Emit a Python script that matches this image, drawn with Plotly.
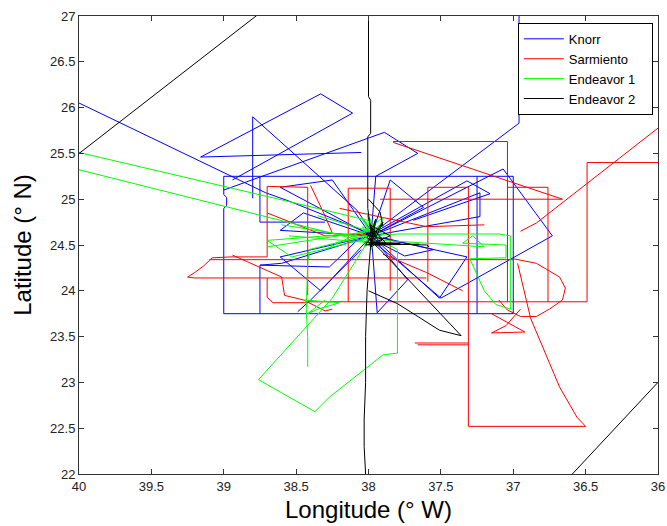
import plotly.graph_objects as go

# Ship tracks, one list of legs per ship; each leg is a run of (lon °W, lat °N) fixes.
knorr_legs = [
    [(40.3, 26.28), (40.0, 26.05), (38.71, 25.07), (38.55, 24.98), (37.98, 24.62)],
    [(39.0, 25.25), (38.0, 25.25), (37.25, 25.25), (37.0, 25.25), (37.0, 23.75),
     (39.0, 23.75), (39.0, 24.9), (38.98, 24.93), (38.98, 25.02), (39.0, 25.05), (39.0, 25.25)],
    [(37.25, 25.25), (37.25, 23.75)],
    [(38.75, 25.25), (38.75, 24.75), (38.3, 24.75)],
    [(38.75, 23.75), (38.75, 24.28), (38.6, 24.3), (37.98, 24.6)],
    [(38.05, 25.51), (39.16, 25.46), (38.33, 26.15), (38.11, 25.94), (38.94, 25.21)],
    [(38.8, 25.01), (38.8, 25.9), (38.08, 24.88), (37.98, 24.65)],
    [(39.0, 25.1), (37.89, 25.73), (37.66, 25.5), (37.95, 25.25), (37.98, 24.65)],
    [(36.96, 27.3), (36.96, 25.83), (37.98, 24.62)],
    [(37.98, 24.6), (37.07, 25.33), (36.73, 24.6), (37.5, 23.92), (37.78, 24.3), (37.98, 24.55)],
    [(37.98, 24.62), (37.32, 25.2), (37.16, 25.06), (37.69, 24.77)],
    [(37.98, 24.6), (38.61, 25.13), (38.25, 25.21), (37.98, 24.6), (37.85, 25.21), (37.62, 24.91),
     (37.98, 24.6), (37.23, 25.07), (37.23, 24.81), (37.98, 24.6), (37.32, 24.37), (37.51, 23.92),
     (37.98, 24.6), (37.73, 24.12), (37.94, 23.76), (37.98, 24.6), (38.33, 24.0), (38.61, 24.37),
     (37.98, 24.6), (38.61, 24.66), (38.45, 24.85), (37.98, 24.6)],
    [(38.75, 24.28), (38.27, 24.26), (38.08, 24.55)],
    [(38.49, 23.77), (38.4, 23.9), (38.05, 24.45)],
    [(37.9, 24.58), (37.55, 24.45), (37.75, 24.38), (37.92, 24.52)],
]

sarmiento_legs = [
    [(38.42, 25.13), (38.7, 25.14), (38.7, 24.37), (38.95, 24.37)],
    [(38.4, 25.15), (38.31, 24.85), (38.25, 24.63)],
    [(38.95, 24.37), (39.08, 24.36), (39.1, 24.33), (39.14, 24.27), (39.2, 24.2),
     (39.25, 24.15), (39.2, 24.14), (38.3, 24.14), (37.6, 24.14)],
    [(39.1, 24.34), (37.0, 24.34)],
    [(38.42, 23.88), (36.49, 23.88), (36.49, 25.4), (36.0, 25.4)],
    [(38.94, 24.39), (38.6, 24.15), (38.58, 23.95), (38.45, 23.9), (38.3, 23.78), (38.25, 23.8)],
    [(38.7, 24.14), (38.7, 23.93), (38.66, 23.87), (38.42, 23.87)],
    [(38.42, 25.13), (38.42, 23.95)],
    [(38.14, 25.12), (38.14, 23.88)],
    [(38.14, 25.12), (37.85, 25.12), (37.85, 24.0)],
    [(37.59, 25.13), (37.59, 24.1)],
    [(37.59, 25.13), (37.31, 25.13), (37.31, 22.52), (36.5, 22.52), (36.56, 22.62),
     (36.68, 22.95), (36.72, 23.1), (36.8, 23.4), (36.88, 23.7), (36.97, 24.3)],
    [(37.04, 25.13), (36.76, 25.13), (36.76, 23.88)],
    [(37.83, 25.63), (37.04, 25.63), (37.04, 23.88)],
    [(37.92, 25.0), (36.66, 25.0)],
    [(37.83, 25.62), (36.66, 25.0)],
    [(35.9, 25.9), (36.84, 24.74), (36.95, 24.65)],
    [(37.0, 24.35), (36.84, 24.3), (36.68, 24.15), (36.64, 24.03), (36.66, 23.9),
     (36.75, 23.8), (36.84, 23.72), (36.95, 23.72), (37.04, 23.79), (37.1, 23.9)],
    [(37.15, 23.75), (36.92, 23.55), (37.15, 23.54), (37.05, 23.62), (36.95, 23.8)],
    [(37.68, 23.43), (37.31, 23.43)],
    [(37.66, 23.41), (37.31, 23.41)],
    [(38.7, 24.85), (38.3, 24.6), (37.98, 24.62)],
    [(38.2, 24.9), (37.6, 24.7), (37.2, 24.72)],
    [(37.9, 24.4), (37.6, 24.2), (37.35, 24.0)],
]

endeavor1_legs = [
    [(40.5, 25.69), (40.0, 25.51), (38.62, 25.0), (37.98, 24.76)],
    [(40.5, 25.52), (40.0, 25.32), (38.62, 24.77), (37.98, 24.52)],
    [(37.98, 24.6), (37.8, 24.45), (37.8, 23.32), (37.9, 23.3), (38.27, 22.84),
     (38.37, 22.68), (38.76, 23.03), (38.25, 23.92), (38.0, 24.55)],
    [(38.42, 23.17), (38.42, 23.5), (38.43, 23.8), (38.42, 24.3), (38.41, 24.45), (37.98, 24.62)],
    [(38.45, 23.9), (38.2, 23.87), (38.35, 23.8), (38.42, 23.75), (38.3, 23.9)],
    [(38.04, 24.63), (38.7, 24.55), (38.53, 24.37), (37.98, 24.58)],
    [(37.98, 24.6), (37.8, 24.62), (37.1, 24.62), (37.02, 24.6), (37.02, 23.8), (37.12, 23.85),
     (37.2, 24.0), (37.3, 24.35), (37.05, 24.36), (37.05, 24.5), (37.35, 24.52), (37.28, 24.6),
     (37.2, 24.48), (37.9, 24.55)],
    [(38.7, 24.48), (38.0, 24.65)],
    [(38.55, 24.6), (37.95, 24.52)],
    [(38.3, 24.45), (37.98, 24.7)],
    [(38.6, 24.72), (38.05, 24.58)],
    [(38.35, 24.82), (37.93, 24.62)],
    [(38.02, 24.75), (37.95, 24.5), (38.05, 24.62), (37.9, 24.8), (37.98, 24.45), (38.04, 24.7),
     (37.93, 24.58), (38.01, 24.85), (37.97, 24.52), (38.06, 24.55), (37.92, 24.72), (38.0, 24.6),
     (37.95, 24.78), (38.03, 24.48), (37.9, 24.62), (37.99, 24.7), (38.05, 24.8), (37.96, 24.56)],
]

endeavor2_legs = [
    [(40.5, 24.885), (38.5, 27.34)],
    [(38.0, 27.3), (38.0, 26.12), (37.985, 26.08), (37.985, 25.72), (38.005, 25.68), (38.005, 24.9),
     (37.98, 24.6), (38.0, 24.2), (38.01, 24.0), (38.02, 23.5), (38.02, 23.0), (38.03, 22.6),
     (38.03, 22.3), (38.02, 22.0), (38.02, 21.8)],
    [(36.71, 21.8), (35.9, 23.17)],
    [(38.0, 24.0), (37.8, 23.86), (37.51, 23.57), (37.36, 23.51), (37.92, 24.45), (37.99, 24.55)],
    [(37.99, 24.52), (37.6, 24.5), (37.58, 24.48)],
    [(38.0, 25.0), (37.92, 24.86), (37.9, 24.7)],
    [(38.02, 24.53), (37.78, 24.52), (37.95, 24.5), (37.65, 24.51)],
    [(38.0, 24.8), (37.96, 24.55), (37.9, 24.75), (38.02, 24.5), (37.88, 24.52), (37.97, 24.68),
     (38.01, 24.58), (37.92, 24.5), (37.99, 24.72), (37.85, 24.6), (38.0, 24.5), (37.94, 24.65),
     (38.02, 24.62), (37.9, 24.56), (37.98, 24.48), (37.95, 24.78), (38.0, 24.55)],
]

ships = ["Knorr", "Sarmiento", "Endeavor 1", "Endeavor 2"]
ship_legs = [knorr_legs, sarmiento_legs, endeavor1_legs, endeavor2_legs]
ship_colors = ["#0000ff", "#ff0000", "#00ff00", "#000000"]

lon_ticks = [40, 39.5, 39, 38.5, 38, 37.5, 37, 36.5, 36]
lat_ticks = [22, 22.5, 23, 23.5, 24, 24.5, 25, 25.5, 26, 26.5, 27]


def flatten(legs):
    lon, lat = [], []
    for leg in legs:
        for x, y in leg:
            lon.append(x)
            lat.append(y)
        lon.append(None)
        lat.append(None)
    return lon, lat


fig = go.Figure()
pad = "\u00a0" * 3  # a little room on the right of each legend label
for name, legs, color in zip(ships, ship_legs, ship_colors):
    lon, lat = flatten(legs)
    fig.add_trace(go.Scatter(x=lon, y=lat, mode="lines", name=name + pad,
                             line=dict(color=color, width=1), connectgaps=False))

axis_common = dict(showline=True, linecolor="#333", linewidth=1, mirror="ticks",
                   ticks="inside", ticklen=5, tickcolor="#333", showgrid=False,
                   zeroline=False, automargin=False,
                   tickfont=dict(family="Liberation Sans", size=13, color="#222"))

title_font = dict(family="Liberation Sans", size=24, color="black")

fig.update_layout(
    template="none",
    width=667, height=526,
    margin=dict(l=79, r=9, t=16, b=52),
    paper_bgcolor="white", plot_bgcolor="white",
    xaxis=dict(range=[40, 36], tickvals=lon_ticks, ticktext=[f"{v:g}" for v in lon_ticks],
               title=dict(text="Longitude (° W)", standoff=8, font=title_font),
               **axis_common),
    yaxis=dict(range=[22, 27], tickvals=lat_ticks, ticktext=[f"{v:g}" for v in lat_ticks],
               title=dict(text="Latitude (° N)", standoff=11, font=title_font),
               **axis_common),
    legend=dict(x=0.991, xanchor="right", y=0.985, yanchor="top",
                bgcolor="white", bordercolor="black", borderwidth=1, itemwidth=40,
                font=dict(family="Liberation Sans", size=13, color="black")),
    showlegend=True,
)

fig.write_html("out.html")
